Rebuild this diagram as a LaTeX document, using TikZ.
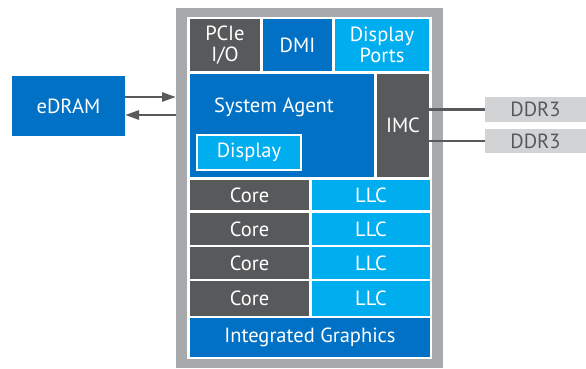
\documentclass[tikz,border=0pt]{standalone}
\usepackage{fontspec}
\setmainfont{PT Sans}
\usetikzlibrary{arrows.meta}
\definecolor{iblue}{HTML}{0071C5}
\definecolor{icyan}{HTML}{00AEEF}
\definecolor{idark}{HTML}{58595B}
\definecolor{iframe}{HTML}{A7A9AC}
\definecolor{ilight}{HTML}{D1D3D4}
\tikzset{
  blk/.style={inner sep=0pt, outer sep=0pt, text=white, font=\fontsize{20.5}{21}\selectfont, align=center},
  blue/.style={blk, fill=iblue},
  cyan/.style={blk, fill=icyan},
  dark/.style={blk, fill=idark},
  ddr/.style={inner sep=0pt, outer sep=0pt, fill=ilight, text=idark, font=\fontsize{20.5}{21}\selectfont},
  conn/.style={draw=idark, line width=2.6pt},
  arr/.style={conn, -{Triangle[length=14pt, width=9pt]}},
}
\begin{document}
\begin{tikzpicture}[x=1pt, y=-1pt]
\useasboundingbox (0,0) rectangle (586,369);
% frame
\path[fill=iframe] (176,8) rectangle (443,368);
\path[fill=white] (187,17) rectangle (432,359);
% top row
\node[dark, minimum width=70pt, minimum height=52pt] (pcie) at (225,45) {PCIe\\I/O};
\node[blue, minimum width=69pt, minimum height=52pt] (dmi) at (297.5,45) {DMI};
\node[cyan, minimum width=94pt, minimum height=52pt] (dp) at (382,45) {Display\\Ports};
% system agent
\node[blue, minimum width=184pt, minimum height=103pt] (sa) at (282,125.5) {};
\node[blk, anchor=base] (satext) at (274,112) {System Agent};
\node[cyan, draw=white, line width=2pt, minimum width=104pt, minimum height=35pt] (disp) at (249,152.5) {Display};
\node[dark, minimum width=52pt, minimum height=103pt] (imc) at (403,125.5) {IMC};
% cores
\foreach \i/\ya/\yb in {1/180/210, 2/213/245, 3/247/279, 4/281/316} {
  \node[dark, minimum width=119pt, minimum height={\yb-\ya}] (core\i) at (249.5,{(\ya+\yb)/2}) {Core};
  \node[cyan, minimum width=118pt, minimum height={\yb-\ya}] (llc\i) at (371,{(\ya+\yb)/2}) {LLC};
}
\node[blue, minimum width=240pt, minimum height=39pt] (gfx) at (310,337.5) {Integrated Graphics};
% eDRAM
\node[blue, minimum width=113pt, minimum height=60pt] (edram) at (68.5,106) {eDRAM};
\coordinate (fa) at (176,97);
\coordinate (fb) at (176,115);
\draw[arr] (edram.east |- fa) -- (fa);
\draw[arr] (fb) -- (edram.east |- fb);
% DDR3
\node[ddr, minimum width=101pt, minimum height=25pt] (ddr1) at (535.5,109.5) {DDR3};
\node[ddr, minimum width=101pt, minimum height=24pt] (ddr2) at (535.5,141) {DDR3};
\draw[conn] (imc.east |- ddr1) -- (ddr1.west);
\draw[conn] (imc.east |- ddr2) -- (ddr2.west);
\end{tikzpicture}
\end{document}
